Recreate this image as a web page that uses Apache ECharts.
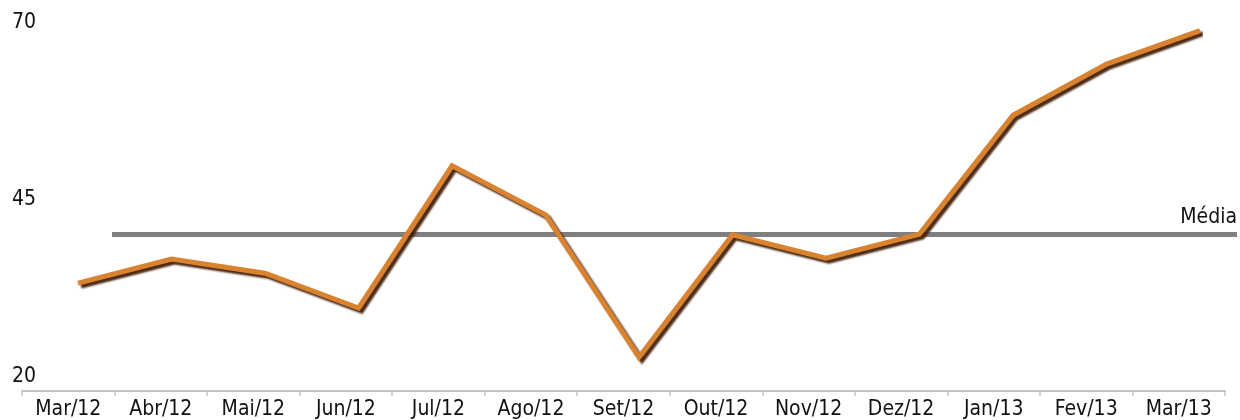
<!DOCTYPE html>
<html>
<head>
<meta charset="utf-8">
<title>Evolução mensal</title>
<script src="https://cdn.jsdelivr.net/npm/echarts@6/dist/echarts.min.js"></script>
<style>
  html, body { margin: 0; padding: 0; background: #ffffff; }
  #chart { width: 1240px; height: 420px; }
</style>
</head>
<body>
<div id="chart"></div>
<script>
// Monthly series, Mar/12 – Mar/13
const categories = ['Mar/12', 'Abr/12', 'Mai/12', 'Jun/12', 'Jul/12', 'Ago/12', 'Set/12',
                    'Out/12', 'Nov/12', 'Dez/12', 'Jan/13', 'Fev/13', 'Mar/13'];
const values = [33.3, 36.7, 34.7, 29.8, 49.8, 42.9, 22.9, 40.1, 36.8, 40.2, 56.9, 64.1, 68.8];
const mediaValue = 40.2;
const yTickLabels = [20, 45, 70];
const yMin = 18;
const yMax = 71;

const FONT = "'DejaVu Sans Condensed', 'DejaVu Sans', sans-serif";

const chart = echarts.init(document.getElementById('chart'), null, { renderer: 'canvas' });

chart.setOption({
  animation: false,
  backgroundColor: '#ffffff',
  textStyle: { fontFamily: FONT },
  grid: [
    // axis frame: category labels and ticks
    { left: 22, right: 15, top: 15, bottom: 28, containLabel: false },
    // data frame for the ribbon line
    { left: 78, right: 40, top: 15, bottom: 28, containLabel: false }
  ],
  xAxis: [
    {
      gridIndex: 0,
      type: 'category',
      data: categories,
      boundaryGap: true,
      axisLine: { show: true, lineStyle: { color: '#c4c4c4', width: 2 } },
      axisTick: { show: true, length: 5, alignWithLabel: false, lineStyle: { color: '#c4c4c4', width: 1.5 } },
      axisLabel: { color: '#111111', fontSize: 21, fontFamily: FONT, margin: 8, interval: 0 },
      splitLine: { show: false }
    },
    {
      gridIndex: 1,
      type: 'category',
      data: categories,
      boundaryGap: false,
      show: false
    }
  ],
  yAxis: [
    {
      gridIndex: 0,
      type: 'value',
      min: yMin,
      max: yMax,
      axisLine: { show: false },
      axisTick: { show: false },
      splitLine: { show: false },
      axisLabel: {
        customValues: yTickLabels,
        color: '#111111',
        fontSize: 21,
        fontFamily: FONT,
        align: 'left',
        margin: 10
      }
    },
    {
      gridIndex: 1,
      type: 'value',
      min: yMin,
      max: yMax,
      show: false
    }
  ],
  series: [
    {
      name: 'Valor',
      type: 'line',
      xAxisIndex: 1,
      yAxisIndex: 1,
      data: values,
      clip: false,
      symbol: 'none',
      smooth: false,
      z: 3,
      lineStyle: {
        color: '#d9822f',
        width: 5,
        cap: 'butt',
        join: 'miter',
        shadowColor: 'rgba(66, 30, 6, 0.95)',
        shadowBlur: 2,
        shadowOffsetX: 3,
        shadowOffsetY: 3
      },
      markLine: {
        silent: true,
        symbol: ['none', 'none'],
        z: 2,
        lineStyle: { color: '#7f7f7f', width: 5, type: 'solid' },
        label: {
          show: true,
          position: 'insideEndTop',
          distance: [0, 6],
          color: '#111111',
          fontSize: 21,
          fontFamily: FONT,
          formatter: 'Média'
        },
        data: [
          [
            { x: 112, yAxis: mediaValue },
            { x: 1237, yAxis: mediaValue }
          ]
        ]
      }
    }
  ]
});
</script>
</body>
</html>
